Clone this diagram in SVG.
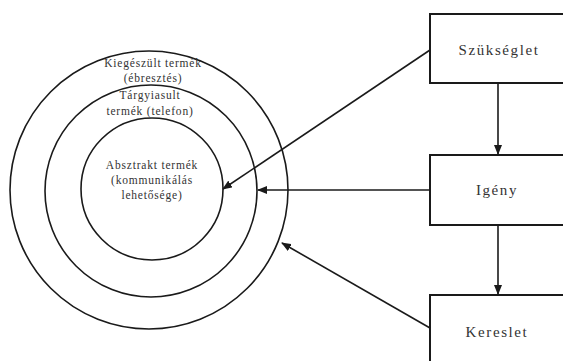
<svg xmlns="http://www.w3.org/2000/svg" width="563" height="361" viewBox="0 0 563 361">
<style>
.c{fill:none;stroke:#1a1a1a;stroke-width:1.6}
.b{fill:#fff;stroke:#1a1a1a;stroke-width:2}
.l{fill:none;stroke:#1a1a1a;stroke-width:1.6}
.t{font-family:"Liberation Serif",serif;font-size:11.5px;fill:#333;text-anchor:middle;letter-spacing:0.8px}
.bt{font-family:"Liberation Serif",serif;font-size:15px;fill:#333;text-anchor:middle;letter-spacing:1.6px}
</style>
<defs>
<marker id="a" markerWidth="10" markerHeight="8" refX="9" refY="4" orient="auto" markerUnits="userSpaceOnUse">
<path d="M0,0 L10,4 L0,8 Z" fill="#1a1a1a"/>
</marker>
</defs>
<rect width="563" height="361" fill="#fff"/>
<g id="outer"><circle class="c" cx="149" cy="190" r="139"/>
<text class="t" x="153" y="67">Kiegészült termék</text>
<text class="t" x="153" y="82">(ébresztés)</text></g>
<g id="middle"><circle class="c" cx="151" cy="191" r="106"/>
<text class="t" x="150" y="99">Tárgyiasult</text>
<text class="t" x="150" y="115">termék (telefon)</text></g>
<g id="inner"><circle class="c" cx="152" cy="189" r="71"/>
<text class="t" x="152" y="169">Absztrakt termék</text>
<text class="t" x="152" y="184">(kommunikálás</text>
<text class="t" x="152" y="199">lehetősége)</text></g>
<g id="szukseglet"><rect class="b" x="430" y="14" width="150" height="69"/>
<text class="bt" x="499" y="55">Szükséglet</text></g>
<g id="igeny"><rect class="b" x="430" y="155" width="150" height="70"/>
<text class="bt" x="497" y="195">Igény</text></g>
<g id="kereslet"><rect class="b" x="430" y="295" width="150" height="80"/>
<text class="bt" x="497" y="337">Kereslet</text></g>
<g id="connectors">
<line class="l" x1="498" y1="83" x2="498" y2="154" marker-end="url(#a)"/>
<line class="l" x1="498" y1="225" x2="498" y2="294" marker-end="url(#a)"/>
<line class="l" x1="430" y1="50" x2="223" y2="189" marker-end="url(#a)"/>
<line class="l" x1="430" y1="190" x2="258" y2="190" marker-end="url(#a)"/>
<line class="l" x1="430" y1="328" x2="282" y2="243" marker-end="url(#a)"/>
</g>
</svg>
